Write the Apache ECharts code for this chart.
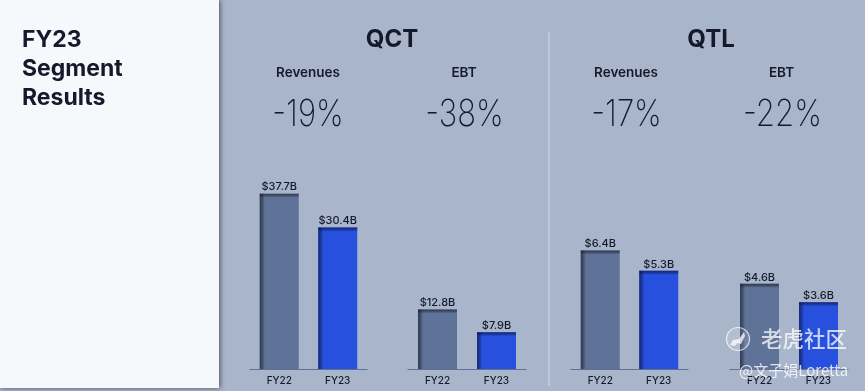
<!DOCTYPE html>
<html><head><meta charset="utf-8">
<style>html,body{margin:0;padding:0;background:#a9b5ca}#c{width:865px;height:391px}</style>
<script src="https://cdn.jsdelivr.net/npm/echarts@6/dist/echarts.min.js"></script>
</head><body><div id="c"></div>
<script>
const categories = ['FY22', 'FY23'];
const qctRevenues = [37.7, 30.4];
const qctEbt = [12.8, 7.9];
const qtlRevenues = [6.4, 5.3];
const qtlEbt = [4.6, 3.6];
const qctMax = 43;
const qtlMax = 10.8;
const panels = [
  {name:'Revenues', change:'-19%', values:qctRevenues, max:qctMax, left:250, width:117, textX:308, changeX:308},
  {name:'EBT', change:'-38%', values:qctEbt, max:qctMax, left:408, width:118, textX:464, changeX:464.5},
  {name:'Revenues', change:'-17%', values:qtlRevenues, max:qtlMax, left:571, width:117, textX:626, changeX:626.5},
  {name:'EBT', change:'-22%', values:qtlEbt, max:qtlMax, left:730, width:118, textX:781.5, changeX:782.5}
];
const GREY='#5f7399', BLUE='#2750df', INK='#141a2b', FONT='Inter, Lato, sans-serif';
const gridTop=169, gridBottom=369;
const grids=[],xAxis=[],yAxis=[],series=[],graphic=[];
const txt=(x,y,text,size,weight,align,fill,extra,sx)=>({type:'text',x,y,scaleX:sx||1,z:20,silent:true,style:Object.assign({text,fontSize:size,fontWeight:weight,fontFamily:FONT,fill:fill||INK,align:align||'center',verticalAlign:'middle'},extra||{})});
graphic.push({type:'rect',z:-10,shape:{x:0,y:0,width:219,height:388},style:{fill:'#f7f8fb',shadowBlur:5,shadowColor:'rgba(40,45,60,.75)',shadowOffsetX:1}});
graphic.push({type:'line',z:-5,shape:{x1:549,y1:32,x2:549,y2:386},style:{stroke:'#c6cfde',lineWidth:1.5}});
graphic.push(txt(22,40,'FY23',23,700,'left'),txt(22,69,'Segment',23,700,'left'),txt(22,98,'Results',23,700,'left'));
graphic.push(txt(392,40,'QCT',24,700),txt(711,40,'QTL',24,700));
panels.forEach((p,i)=>{
  grids.push({left:p.left,width:p.width,top:gridTop,height:gridBottom-gridTop});
  xAxis.push({type:'category',gridIndex:i,data:categories,axisTick:{show:false},
    axisLine:{lineStyle:{color:'#5f7093',width:1.2}},
    axisLabel:{color:INK,fontSize:10,fontFamily:FONT,fontWeight:500,margin:7}});
  yAxis.push({type:'value',gridIndex:i,min:0,max:p.max,show:false,splitLine:{show:false}});
  series.push({type:'bar',xAxisIndex:i,yAxisIndex:i,barWidth:39,silent:true,
    data:p.values.map((v,k)=>({value:v,itemStyle:{color:k?BLUE:GREY}})),
    label:{show:true,position:'top',distance:1,color:INK,fontSize:11,fontFamily:FONT,fontWeight:500,formatter:o=>'$'+o.value.toFixed(1)+'B'}});
  series.push({type:'custom',xAxisIndex:i,yAxisIndex:i,silent:true,z:5,
    data:p.values.map((v,k)=>[k,v]),
    renderItem:(params,api)=>{
      const s=api.coord([api.value(0),api.value(1)]),b=api.coord([api.value(0),0]);
      const x=s[0]-19.5,y=s[1],h=b[1]-s[1];
      const edge=api.value(0)?'rgba(15,30,100,.75)':'rgba(35,42,62,.75)';
      return {type:'group',children:[
        {type:'rect',shape:{x,y,width:5,height:h},style:{fill:{type:'linear',x:0,y:0,x2:1,y2:0,colorStops:[{offset:0,color:edge},{offset:1,color:'rgba(0,0,0,0)'}]}}},
        {type:'rect',shape:{x,y,width:39,height:4},style:{fill:{type:'linear',x:0,y:0,x2:0,y2:1,colorStops:[{offset:0,color:edge},{offset:1,color:'rgba(0,0,0,0)'}]}}}
      ]};
    }});
  graphic.push(txt(p.textX,73,p.name,13.5,600));
  graphic.push(txt(p.changeX,115,p.change,37,200,'center',INK,null,0.84));
});
// watermark
graphic.push({type:'circle',z:30,shape:{cx:738,cy:339,r:11.5},style:{fill:'rgba(255,255,255,.12)',stroke:'rgba(255,255,255,.75)',lineWidth:1.2}});
graphic.push({type:'polygon',z:30,shape:{points:[[730,345],[733,340],[739,339],[744,332],[745,336],[741,344],[737,343],[735,346]]},style:{fill:'rgba(255,255,255,.75)'}});
graphic.push(txt(761,339,'老虎社区',21.5,500,'left','rgba(255,255,255,.75)',{fontFamily:'"Noto Sans CJK SC"'}));
graphic.push(txt(739,370,'@文子娟Loretta',15,400,'left','rgba(255,255,255,.8)',{fontFamily:'"Noto Sans CJK SC"'}));
const chart=echarts.init(document.getElementById('c'),null,{renderer:'canvas'});
chart.setOption({animation:false,backgroundColor:'#a9b5ca',grid:grids,xAxis,yAxis,series,graphic});
</script></body></html>
